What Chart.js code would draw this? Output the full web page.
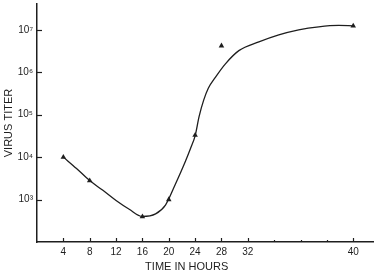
<!DOCTYPE html>
<html lang="en">
<head>
    <meta charset="UTF-8">
    <title>Virus titer</title>
    <style>
        body { margin: 0; background: #fff; }
        #wrap { width: 377px; height: 276px; }
    </style>
</head>
<body>
    <div id="wrap"><canvas id="chart"></canvas></div>
    <script src="https://cdn.jsdelivr.net/npm/chart.js"></script>
    <script>
// measured points (triangles)
const pointHours = [4, 8, 16, 20, 24, 28, 40];
const pointTiter = [10000, 2800, 394, 1000, 33000, 4200000, 12400000];

// hand drawn smooth curve
const curveHours = [4, 6, 8, 10, 12, 14, 16, 18, 19.5, 21, 22.5, 23.3, 24, 24.6, 25.3, 26, 27.1, 28.6, 30.64, 32.84, 34.35, 35.86, 37.38, 38.89, 40];
const curveTiter = [10000, 5400, 2800, 1650, 950, 590, 400, 460, 740, 2300, 7800, 16000, 31600, 90000, 220000, 420000, 770000, 1580000, 3230000, 5200000, 7600000, 10000000, 11800000, 12700000, 12400000];

const yTicks = [1e3, 1e4, 1e5, 1e6, 1e7];
const yTickLabels = ['10³', '10⁴', '10⁵', '10⁶', '10⁷'];
const xTickLabels = [4, 8, 12, 16, 20, 24, 28, 32, 40];
const xMinorHours = [34, 36, 38];

// the time axis is squeezed after 32 h (40 sits where 48 would be)
function toAxis(h) { return h <= 32 ? h : 32 + (h - 32) * 2; }
function fromAxis(p) { return p <= 32 ? p : 32 + (p - 32) / 2; }

const ink = '#1e1e1e';

const inwardTicks = {
    id: 'inwardTicks',
    afterDraw(chart) {
        const c = chart.ctx, x = chart.scales.x, y = chart.scales.y;
        const area = chart.chartArea;
        c.save();
        c.strokeStyle = ink;
        c.lineWidth = 1.2;
        yTicks.forEach(v => {
            const py = Math.round(y.getPixelForValue(v)) + 0.5;
            c.beginPath(); c.moveTo(area.left, py); c.lineTo(area.left + 5, py); c.stroke();
        });
        xTickLabels.forEach(h => {
            const px = Math.round(x.getPixelForValue(toAxis(h))) + 0.5;
            c.beginPath(); c.moveTo(px, area.bottom); c.lineTo(px, area.bottom - 4); c.stroke();
        });
        xMinorHours.forEach(h => {
            const px = Math.round(x.getPixelForValue(toAxis(h))) + 0.5;
            c.beginPath(); c.moveTo(px, area.bottom); c.lineTo(px, area.bottom - 2); c.stroke();
        });
        c.restore();
    }
};

new Chart(document.getElementById('chart'), {
    type: 'scatter',
    data: {
        datasets: [{
            type: 'line',
            data: curveHours.map((h, i) => ({ x: toAxis(h), y: curveTiter[i] })),
            borderColor: ink,
            borderWidth: 1.3,
            pointRadius: 0,
            cubicInterpolationMode: 'monotone',
            fill: false
        }, {
            data: pointHours.map((h, i) => ({ x: toAxis(h), y: pointTiter[i] })),
            pointStyle: 'triangle',
            pointRadius: 3.2,
            backgroundColor: ink,
            borderColor: ink,
            borderWidth: 0
        }]
    },
    plugins: [inwardTicks],
    options: {
        responsive: true,
        maintainAspectRatio: false,
        animation: false,
        layout: { padding: { top: 3, right: 0, left: 0, bottom: 0 } },
        plugins: { legend: { display: false }, tooltip: { enabled: false } },
        scales: {
            x: {
                type: 'linear',
                min: 0,
                max: 51,
                afterBuildTicks(scale) {
                    scale.ticks = xTickLabels.map(h => ({ value: toAxis(h) }));
                },
                afterFit(scale) { scale.height = 34; scale.paddingLeft = 0; scale.paddingRight = 0; },
                grid: { display: false, drawTicks: false },
                border: { color: ink, width: 1.5 },
                ticks: {
                    color: ink,
                    font: { family: 'Liberation Sans', size: 10 },
                    padding: 4,
                    maxRotation: 0,
                    autoSkip: false,
                    callback: v => String(fromAxis(v))
                },
                title: {
                    display: true,
                    text: 'TIME IN HOURS' + '\u00a0'.repeat(12),
                    color: ink,
                    font: { family: 'Liberation Sans', size: 11 },
                    padding: { top: 2, bottom: 2 }
                }
            },
            y: {
                type: 'logarithmic',
                min: 100,
                max: 40600000,
                afterBuildTicks(scale) {
                    scale.ticks = yTicks.map(v => ({ value: v }));
                },
                afterFit(scale) { scale.width = 37; scale.paddingTop = 0; scale.paddingBottom = 0; },
                grid: { display: false, drawTicks: false },
                border: { color: ink, width: 1.5 },
                ticks: {
                    color: ink,
                    font: { family: 'Liberation Sans', size: 10 },
                    padding: 4,
                    callback: (v) => yTickLabels[yTicks.indexOf(v)]
                },
                title: {
                    display: true,
                    text: 'VIRUS TITER',
                    color: ink,
                    font: { family: 'Liberation Sans', size: 11 },
                    padding: { top: 2, bottom: 0 }
                }
            }
        }
    }
});
    </script>
</body>
</html>
